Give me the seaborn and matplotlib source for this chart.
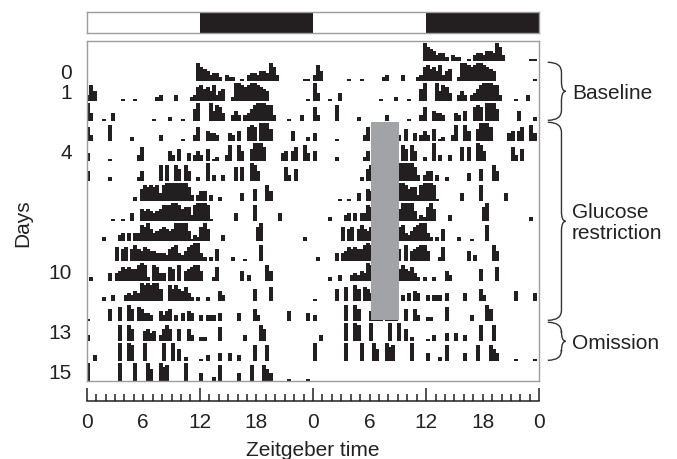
import matplotlib
matplotlib.use("Agg")
import matplotlib.pyplot as plt
import seaborn as sns
from matplotlib.path import Path
from matplotlib.patches import PathPatch

# ------------------ data ------------------
# activity in 20-min bins, stored as runs of (first bin, heights 0-9), one list per day
d00 = [(35, "97653442"), (44, "322"), (49, "1"), (51, "3443554973"), (69, "11")]
d01 = [(0, "385"), (11, "1"), (15, "1"), (22, "23"), (28, "3"), (33, "23786758356"), (46, "299878998765"), (70, "1")]
d02 = [(0, "94"), (5, "1"), (8, "4"), (21, "1"), (26, "2"), (30, "1"), (34, "69"), (39, "95874"), (46, "353"),
       (50, "3468999883"), (64, "1"), (68, "3")]
d03 = [(0, "73"), (7, "8"), (14, "2"), (23, "3"), (30, "1"), (34, "37"), (38, "5443"), (45, "43"), (48, "5"),
       (51, "787"), (55, "9996"), (65, "5"), (70, "2")]
d04 = [(0, "4"), (7, "1"), (16, "37"), (26, "53"), (29, "6"), (32, "4"), (34, "353"), (38, "6"), (40, "12"),
       (44, "38"), (48, "85"), (52, "69997"), (62, "45"), (65, "57"), (69, "84")]
d05 = [(0, "5"), (7, "2"), (16, "25"), (23, "8"), (25, "8"), (28, "86"), (31, "85"), (35, "2"), (38, "9"),
       (40, "3"), (43, "3"), (47, "7"), (49, "7"), (52, "985"), (63, "73"), (66, "6")]
d06 = [(15, "2"), (17, "68787848999999973"), (35, "355"), (39, "3"), (42, "2"), (49, "4"), (53, "6"), (57, "85")]
d07 = [(8, "1"), (11, "1"), (14, "4"), (17, "65654568889986773899981"), (47, "4"), (53, "8"), (61, "4")]
d08 = [(5, "2"), (10, "34"), (13, "4"), (15, "448796456765699995132796"), (43, "3"), (54, "79"), (69, "2")]
d09 = [(9, "7"), (11, "67"), (14, "68657655444367843578994"), (37, "2"), (39, "2"), (41, "6"), (46, "2"),
       (50, "1"), (55, "8")]
d10 = [(1, "2"), (7, "4"), (9, "45767668982"), (21, "87"), (23, "44"), (26, "76"), (29, "8"), (31, "567885"),
       (40, "27"), (49, "5"), (51, "3"), (57, "85")]
d11 = [(5, "2"), (8, "3"), (12, "343549898996"), (26, "86"), (28, "865742"), (35, "2"), (38, "2"), (42, "53"),
       (53, "6"), (58, "7")]
d12 = [(0, "1"), (7, "6"), (10, "7"), (13, "86"), (16, "76443"), (23, "5356"), (28, "3"), (30, "4"), (32, "54"),
       (36, "3"), (38, "333"), (42, "4"), (48, "4"), (53, "63"), (64, "5"), (70, "4")]
d13 = [(0, "3"), (10, "8"), (13, "86"), (18, "5645"), (23, "3686"), (29, "6"), (32, "63"), (36, "22"), (42, "7"),
       (50, "3"), (55, "86")]
d14 = [(2, "3"), (10, "9"), (13, "98"), (18, "9"), (24, "9"), (27, "9"), (29, "6"), (31, "2"), (36, "1"),
       (38, "3"), (42, "4"), (45, "4"), (48, "3"), (53, "8"), (57, "8")]
d15 = [(0, "9"), (10, "9"), (15, "9"), (19, "96"), (23, "978"), (31, "9"), (36, "4"), (40, "2"), (42, "8"),
       (48, "4"), (52, "8"), (56, "864"), (64, "1"), (70, "1")]
activity = [d00, d01, d02, d03, d04, d05, d06, d07, d08, d09, d10, d11, d12, d13, d14, d15]

day_ticks = [0, 1, 4, 10, 13, 15]
zt_ticks = [0, 6, 12, 18, 24, 30, 36, 42, 48]
zt_labels = ["0", "6", "12", "18", "0", "6", "12", "18", "0"]
dark_start = [12, 36]
dark_len = 12
food_zt = (6.2, 9.1)      # grey block, right half
food_days = (4, 13)
periods = ["Baseline", "Glucose\nrestriction", "Omission"]
period_days = [(0, 2), (3, 12), (13, 14)]

INK = "#231f20"
FRAME = "#9d9d9d"
FS = 15

sns.set_theme(style="white")
plt.rcParams["font.family"] = ["Liberation Sans", "DejaVu Sans"]

W, H = 677, 459
fig = plt.figure(figsize=(W / 100, H / 100), dpi=100)


def box(x0, y0, x1, y1):
    # pixel box -> figure fraction
    return [x0 / W, 1 - y1 / H, (x1 - x0) / W, (y1 - y0) / H]


# ------------------ actogram (double plotted) ------------------
ax = fig.add_axes(box(86.7, 40.7, 539.3, 380.7))
nrows = len(activity) + 1

xs, hs, bs = [], [], []
for d, runs in enumerate(activity):
    for start, vals in runs:
        for i, ch in enumerate(vals):
            h = int(ch)
            if h == 0:
                continue
            t = (start + i) / 3 - 0.04
            # day d sits in the left half of row d+1 and the right half of row d
            xs += [t, t + 24]
            hs += [-h / 9 * 0.9, -h / 9 * 0.9]
            bs += [d + 2, d + 1]

ax.bar(xs, hs, bottom=bs, width=0.42, align="edge", color=INK, linewidth=0)
ax.bar(24 + food_zt[0], food_days[1] + 1 - food_days[0] - 0.1, bottom=food_days[0] + 0.08,
       width=food_zt[1] - food_zt[0], align="edge", color="#a2a3a6", linewidth=0, zorder=3)

ax.set_xlim(0, 48)
ax.set_ylim(nrows, 0)
ax.set_xticks([])
ax.set_yticks([d + 1.55 for d in day_ticks])
ax.set_yticklabels([str(d) for d in day_ticks], fontsize=FS, color="#222222")
ax.tick_params(axis="y", length=0, pad=10.5)
for s in ax.spines.values():
    s.set_color(FRAME)
    s.set_linewidth(1)
    s.set_visible(True)

# curly braces for the protocol periods
xe, xv, xt, r = 48.9, 50.35, 50.8, 0.5
for name, (d0, d1) in zip(periods, period_days):
    ya, yb = d0 + 1 + 0.08, d1 + 2 - 0.02
    ym = (ya + yb) / 2
    verts = [(xe, ya), (xv, ya), (xv, ya + r), (xv, ym - r), (xv, ym), (xt, ym),
             (xv, ym), (xv, ym + r), (xv, yb - r), (xv, yb), (xe, yb)]
    codes = [Path.MOVETO, Path.CURVE3, Path.CURVE3, Path.LINETO, Path.CURVE3, Path.CURVE3,
             Path.CURVE3, Path.CURVE3, Path.LINETO, Path.CURVE3, Path.CURVE3]
    ax.add_patch(PathPatch(Path(verts, codes), facecolor="none", edgecolor="#333333",
                           linewidth=1.0, clip_on=False))
    ax.text(51.45, ym + 0.1, name, ha="left", va="center", fontsize=FS, color="#222222",
            linespacing=1.15, clip_on=False)

# ------------------ light/dark bar ------------------
lda = fig.add_axes(box(86.7, 11.7, 539.3, 33.3))
lda.barh(0, dark_len, left=dark_start, height=1, color=INK, linewidth=0)
lda.set_xlim(0, 48)
lda.set_ylim(-0.5, 0.5)
lda.set_xticks([])
lda.set_yticks([])
for s in lda.spines.values():
    s.set_color(FRAME)
    s.set_linewidth(1)
    s.set_visible(True)

# ------------------ time axis ------------------
xa = fig.add_axes(box(86.7, 400, 539.3, 401))
xa.patch.set_alpha(0)
xa.set_xlim(0, 48)
xa.set_ylim(0, 1)
xa.set_yticks([])
for side in ["top", "left", "right"]:
    xa.spines[side].set_visible(False)
xa.spines["bottom"].set_color(INK)
xa.spines["bottom"].set_linewidth(1.1)
xa.set_xticks(zt_ticks)
xa.set_xticklabels(zt_labels, fontsize=FS, color="#222222")
xa.set_xticks(range(49), minor=True)
xa.tick_params(axis="x", which="both", direction="in", color=INK, width=1.1, bottom=True)
xa.tick_params(axis="x", which="major", length=9.4, pad=9)
xa.tick_params(axis="x", which="minor", length=4.8)
for tk, v in zip(xa.xaxis.get_major_ticks(), zt_ticks):
    if v % 12:
        tk.tick1line.set_markersize(4.8)

fig.text(313 / W, 1 - 451 / H, "Zeitgeber time", ha="center", va="center", fontsize=FS, color="#222222")
fig.text(23 / W, 1 - 223 / H, "Days", ha="center", va="center", rotation=90, fontsize=FS, color="#222222")

fig.savefig("out.png", dpi=100)
